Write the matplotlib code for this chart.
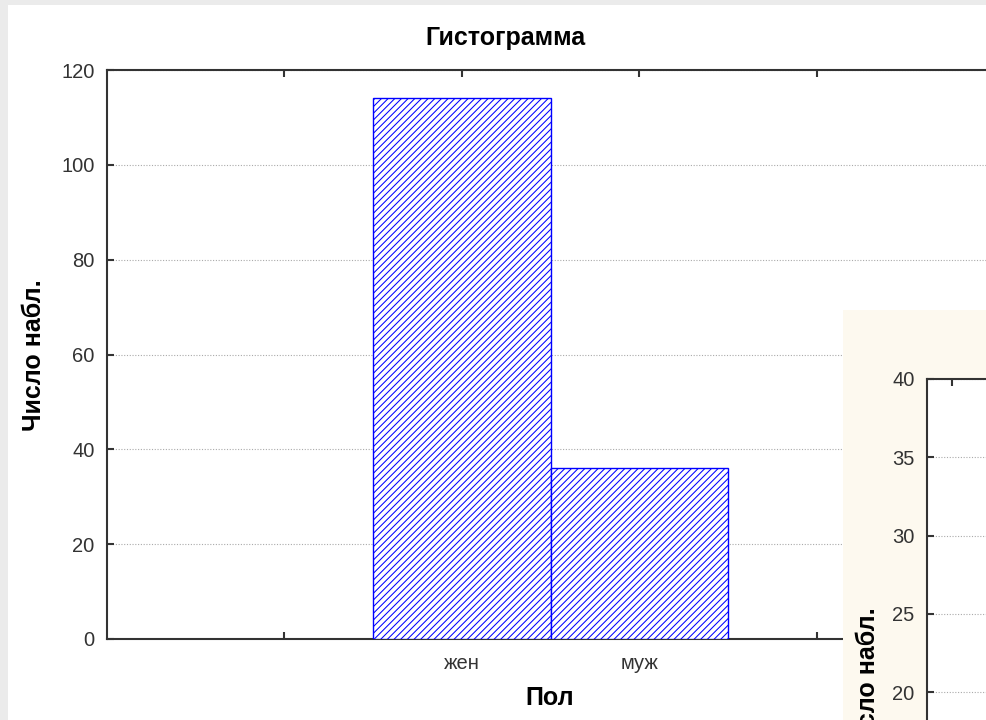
import matplotlib
matplotlib.use("Agg")
import matplotlib.pyplot as plt
from matplotlib.patches import Rectangle

# ---- data ----
categories = ["жен", "муж"]
counts = [114, 36]
y_ticks_main = [0, 20, 40, 60, 80, 100, 120]
y_ticks_inner = [20, 25, 30, 35, 40]
title = "Гистограмма"
xlabel = "Пол"
ylabel = "Число набл."

W, H = 987, 720
plt.rcParams['font.family'] = ['Liberation Sans', 'DejaVu Sans']
plt.rcParams['hatch.color'] = '#0000ff'
plt.rcParams['hatch.linewidth'] = 0.75

tick_size = 14.5

fig = plt.figure(figsize=(W / 100, H / 100), dpi=100, facecolor='#ebebeb')


def fx(x):
    return x / W


def fy(y):
    return 1 - y / H


# white panel
fig.patches.append(Rectangle((fx(8), 0), 1 - fx(8), fy(5), transform=fig.transFigure,
                             facecolor='white', edgecolor='none', zorder=-5))

spine_c = '#333333'
tick_c = '#333333'

# ---- main axes ----
l, t, r, b = 107, 70, 994, 639
ax = fig.add_axes([fx(l), fy(b), fx(r) - fx(l), fy(t) - fy(b)], zorder=1)
ax.set_facecolor('white')
xpos = list(range(len(categories)))
ax.bar(xpos, counts, width=1.0, facecolor='white', edgecolor='#0000ff',
       linewidth=1.0, hatch='/////', zorder=3)
ax.set_xlim(-2, 3)
ax.set_ylim(0, 120)
ax.set_xticks([-1] + xpos + [2])
ax.set_xticklabels([''] + categories + [''])
ax.set_yticks(y_ticks_main)
ax.tick_params(direction='in', length=5, width=1.5, color=tick_c, labelcolor=tick_c,
               labelsize=tick_size, top=True, right=True)
ax.tick_params(axis='y', pad=9)
ax.tick_params(axis='x', pad=11)
ax.yaxis.grid(True, linestyle=(0, (1, 1.5)), color='#aaaaaa', linewidth=0.8, zorder=0)
ax.set_axisbelow(True)
for s in ax.spines.values():
    s.set_color(spine_c)
    s.set_linewidth(1.5)

fig.text(fx(505), fy(38), title, ha='center', va='center', fontsize=18, fontweight='bold')
fig.text(fx(550), fy(698), xlabel, ha='center', va='center', fontsize=18, fontweight='bold')
fig.text(fx(34), fy(355), ylabel, ha='center', va='center', rotation=90,
         fontsize=18, fontweight='bold')

# ---- overlapping second window ----
fig.patches.append(Rectangle((fx(843), 0), 1 - fx(843), fy(310), transform=fig.transFigure,
                             facecolor='#fdf9ef', edgecolor='none', zorder=5))
px_per_unit = (692 - 379) / 20.0
il, it = 927, 379
ib = it + 40 * px_per_unit
ax2 = fig.add_axes([fx(il), fy(ib), fx(1100) - fx(il), fy(it) - fy(ib)], zorder=6)
ax2.set_facecolor('white')
ax2.set_ylim(0, 40)
ax2.set_xlim(-0.5, 3)
ax2.set_xticks([0])
ax2.set_xticklabels([''])
ax2.set_yticks(y_ticks_inner)
ax2.tick_params(direction='in', length=5, width=1.5, color=tick_c, labelcolor=tick_c,
                labelsize=tick_size, top=True, pad=9)
ax2.yaxis.grid(True, linestyle=(0, (1, 1.5)), color='#aaaaaa', linewidth=0.8)
for s in ax2.spines.values():
    s.set_color(spine_c)
    s.set_linewidth(1.5)
fig.text(fx(868), fy(683), ylabel, ha='center', va='center', rotation=90,
         fontsize=18, fontweight='bold', zorder=7)

fig.savefig('out.png', dpi=100, facecolor=fig.get_facecolor())
